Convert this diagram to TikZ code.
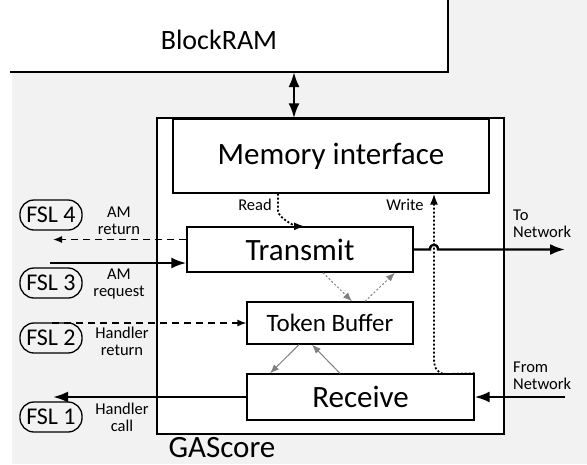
\documentclass[tikz,border=0pt]{standalone}
\usepackage{fontspec}
\setmainfont{Carlito}
\usetikzlibrary{arrows.meta}
\definecolor{bggray}{HTML}{F2F2F2}

\begin{document}
\begin{tikzpicture}[
      x=1pt,y=-1pt,
      block/.style={draw,line width=1.3pt,fill=white,inner sep=0pt,font=\fontsize{31}{36}\selectfont},
      fsl/.style={draw,line width=1.3pt,rounded corners=14pt,minimum width=62pt,minimum height=30pt,inner sep=0pt,font=\fontsize{24}{28}\selectfont},
      lbl/.style={align=center,inner sep=0pt,font=\fontsize{16.5}{17}\selectfont},
      bus/.style={line width=2.4pt,-{Latex[length=15pt,width=11pt]}},
      ctl/.style={line width=1.3pt,dash pattern=on 7pt off 5pt,-{Latex[length=9pt,width=7pt]}},
      dat/.style={line width=1.8pt,dash pattern=on 2pt off 2pt,-{Latex[length=11pt,width=8pt]}},
      tok/.style={gray,line width=1pt,-{Latex[length=9pt,width=7pt]}},
      ]
    \useasboundingbox (0,0) rectangle (587,464);

    % Background and the BlockRAM
    \fill[bggray] (12,0) rectangle (587,464);
    \fill[white] (0,0) rectangle (448,72);
    \draw[line width=1.3pt] (10,72) -- (448,72) -- (448,0);
    \node[inner sep=0pt,font=\fontsize{28}{32}\selectfont] (blockram) at (219,40) {BlockRAM};
    \coordinate (ramport) at (294,72);

    % Position the nodes
    \node[block,line width=2pt,minimum width=347pt,minimum height=316pt] (gascore) at (330.5,276) {};
    \node[inner sep=0pt,font=\fontsize{31}{36}\selectfont] (gascorelbl) at (222,448) {GAScore};
    \node[block,minimum width=316pt,minimum height=74pt] (mem) at (331,156) {Memory interface};
    \node[block,minimum width=226pt,minimum height=45pt] (transmit) at (300,249.5) {Transmit};
    \node[block,minimum width=166pt,minimum height=42pt,font=\fontsize{25}{30}\selectfont] (tokbuf) at (330,323) {Token Buffer};
    \node[block,minimum width=227pt,minimum height=46pt] (receive) at (360.5,397) {Receive};

    \node[fsl] (fsl4) at (51,215) {FSL 4};
    \node[fsl] (fsl3) at (51,283) {FSL 3};
    \node[fsl] (fsl2) at (51,338) {FSL 2};
    \node[fsl] (fsl1) at (51,417) {FSL 1};

    \node[lbl] (amretlbl) at (119,221) {AM\\return};
    \node[lbl] (amreqlbl) at (119,284) {AM\\request};
    \node[lbl] (hretlbl) at (122,341) {Handler\\return};
    \node[lbl] (hcalllbl) at (122,417) {Handler\\call};
    \node[lbl,align=left,anchor=west] (tonetlbl) at (513,224) {To\\Network};
    \node[lbl,align=left,anchor=west] (fromnetlbl) at (513,376) {From\\Network};
    \node[lbl] (readlbl) at (255,205) {Read};
    \node[lbl] (writelbl) at (405,205) {Write};

    \coordinate (amret) at (53,239.5);
    \coordinate (amreq) at (50,263);
    \coordinate (hret) at (52,323);
    \coordinate (hcall) at (53,397);
    \coordinate (tonet) at (565,249.5);
    \coordinate (fromnet) at (565,397);

    % Draw the arrows
    \draw[bus,{Latex[length=15pt,width=11pt]}-{Latex[length=15pt,width=11pt]}] (ramport) -- (ramport |- mem.north);

    \path[ctl] ([yshift=10pt]transmit.west) edge (amret);
    \path[bus] (amreq) edge ([yshift=-13.5pt]transmit.west);
    \path[ctl] (hret) edge (hret -| tokbuf.west);
    \path[bus] (receive.west) edge (hcall);
    \path[bus] (fromnet) edge (receive.east);

    \path[tok,dash pattern=on 2pt off 2pt] ([xshift=23pt]transmit.south) edge ([xshift=22pt]tokbuf.north);
    \path[tok,dash pattern=on 2pt off 2pt] ([xshift=35pt]tokbuf.north) edge ([xshift=95pt]transmit.south);
    \path[tok] ([xshift=-31pt]tokbuf.south) edge ([xshift=-90.5pt]receive.north);
    \path[tok] ([xshift=-20.5pt]receive.north) edge ([xshift=-18pt]tokbuf.south);

    \draw[dat] ([xshift=-53pt]mem.south) -- ++(0,17) .. controls +(0,8) and +(-8,0) .. ([xshift=5pt]transmit.north);
    \draw[dat] (receive.north east) -- (446,374) .. controls (437,374) and (434,368) .. (434,358) -- ([xshift=103pt]mem.south);

    \draw[bus] (transmit.east) -- (430,249.5) .. controls (430,243) and (438,243) .. (438,249.5) -- (tonet);

  \end{tikzpicture}
\end{document}
